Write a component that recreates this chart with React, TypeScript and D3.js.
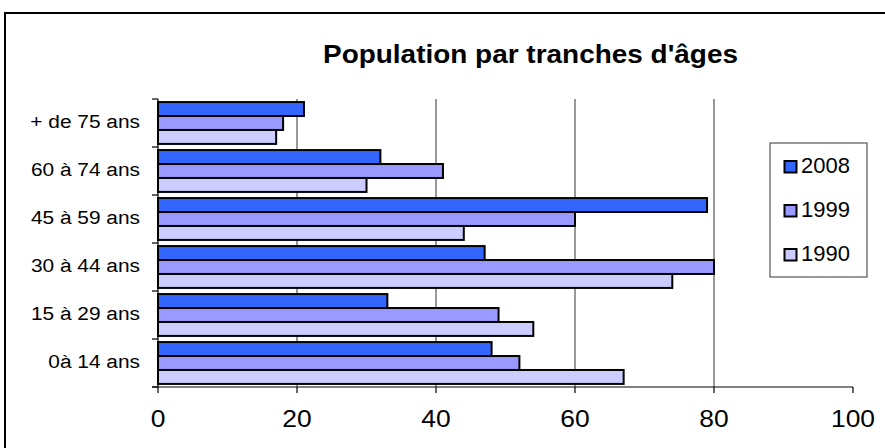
import React from "react";
import * as d3 from "d3";

const categories = ["+ de 75 ans", "60 à 74 ans", "45 à 59 ans", "30 à 44 ans", "15 à 29 ans", "0à 14 ans"];
const seriesNames = ["2008", "1999", "1990"];
const values2008 = [21, 32, 79, 47, 33, 48];
const values1999 = [18, 41, 60, 80, 49, 52];
const values1990 = [17, 30, 44, 74, 54, 67];
const xTicks = [0, 20, 40, 60, 80, 100];
const colors = ["#3366FF", "#9999FF", "#CCCCFF"];

function SText(props: { x: number; y: number; sx: number; anchor?: string; size: number; bold?: boolean; children: any }) {
  const { x, y, sx, anchor, size, bold, children } = props;
  return (
    <text transform={`translate(${x},${y}) scale(${sx},1)`} textAnchor={anchor || "start"} fontSize={size}
      fontWeight={bold ? "bold" : "normal"} fill="#000">{children}</text>
  );
}

export default function App() {
  const W = 885, H = 448;
  const left = 158, right = 853, top = 99, bottom = 387;
  const x = d3.scaleLinear().domain([0, 100]).range([left, right]);
  const y = d3.scaleBand<string>().domain(categories).range([top, bottom]).paddingInner(0).paddingOuter(0);
  const inner = d3.scaleBand<string>().domain(seriesNames).range([0, y.bandwidth()]).paddingInner(0).paddingOuter(0.22);
  const series = [values2008, values1999, values1990];
  const font = "Arial, 'Liberation Sans', sans-serif";
  return (
    <svg width={W} height={H} style={{ position: "absolute", left: 0, top: 0 }} fontFamily={font}>
      <rect x={0} y={0} width={W} height={H} fill="#fff" />
      <rect x={5} y={13} width={920} height={500} fill="none" stroke="#000" strokeWidth={2} />
      <text x={323} y={63} fontSize={25} fontWeight="bold" fill="#000" textLength={415} lengthAdjust="spacingAndGlyphs">Population par tranches d'âges</text>
      {xTicks.filter(t => t > 0 && t < 100).map(t => (
        <line key={"g" + t} x1={x(t)} x2={x(t)} y1={top} y2={bottom} stroke="#333" strokeWidth={1} />
      ))}
      {categories.map((c, ci) =>
        series.map((s, si) => (
          <rect key={c + si} x={x(0)} y={(y(c) as number) + (inner(seriesNames[si]) as number)}
            width={x(s[ci]) - x(0)} height={inner.bandwidth()} fill={colors[si]} stroke="#000" strokeWidth={2} />
        ))
      )}
      <line x1={left} x2={left} y1={top} y2={bottom} stroke="#000" strokeWidth={1.2} />
      {d3.range(categories.length + 1).map(i => {
        const yy = top + i * y.step();
        return <line key={"yt" + i} x1={left - 6} x2={left} y1={yy} y2={yy} stroke="#000" strokeWidth={1.2} />;
      })}
      <line x1={left - 6} x2={right} y1={bottom} y2={bottom} stroke="#000" strokeWidth={1.2} />
      {xTicks.map(t => (
        <g key={"xt" + t}>
          <line x1={x(t)} x2={x(t)} y1={bottom} y2={bottom + 6} stroke="#000" strokeWidth={1.2} />
          <SText x={x(t)} y={427} sx={1.1} anchor="middle" size={24}>{t}</SText>
        </g>
      ))}
      {categories.map(c => (
        <SText key={"l" + c} x={140} y={(y(c) as number) + y.bandwidth() / 2 + 5} sx={1.16} anchor="end" size={18}>{c}</SText>
      ))}
      <rect x={770} y={143} width={97} height={134} fill="#fff" stroke="#555" strokeWidth={1.2} />
      {seriesNames.map((n, i) => {
        const by = 172.5 + i * 44;
        return (
          <g key={"lg" + n}>
            <rect x={784.5} y={by - 11.5} width={12} height={11.5} fill={colors[i]} stroke="#000" strokeWidth={2} />
            <text x={801} y={by} fontSize={22} fill="#000">{n}</text>
          </g>
        );
      })}
    </svg>
  );
}
